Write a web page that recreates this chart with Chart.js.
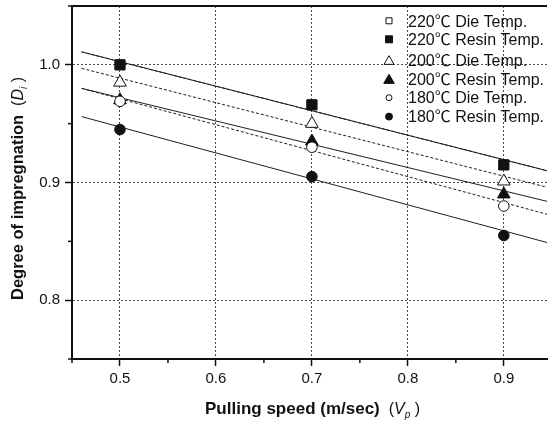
<!DOCTYPE html>
<html>
<head>
<meta charset="utf-8">
<script src="https://cdn.jsdelivr.net/npm/chart.js@4.4.1/dist/chart.umd.min.js"></script>
<style>
  html, body { margin: 0; padding: 0; background: #ffffff; overflow: hidden; }
  #wrap { width: 550px; height: 421px; }
</style>
</head>
<body>
<div id="wrap"><canvas id="c" width="550" height="421"></canvas></div>
<script>
// ---- data ----
const pullingSpeed = [0.5, 0.7, 0.9];
const die220   = [1.000, 0.966, 0.915];
const resin220 = [1.000, 0.966, 0.915];
const die200   = [0.985, 0.950, 0.901];
const resin200 = [0.970, 0.935, 0.890];
const die180   = [0.969, 0.930, 0.880];
const resin180 = [0.945, 0.905, 0.855];

// fitted lines (end points)
const fitX        = [0.46, 0.945];
const fitDie220   = [1.011, 0.910];
const fitResin220 = [1.011, 0.910];
const fitDie200   = [0.997, 0.896];
const fitResin200 = [0.980, 0.884];
const fitDie180   = [0.980, 0.873];
const fitResin180 = [0.956, 0.849];

const xTicks = [0.5, 0.6, 0.7, 0.8, 0.9];
const yTicks = [0.8, 0.9, 1.0];
const xMinorTicks = [0.45, 0.55, 0.65, 0.75, 0.85];
const yMinorTicks = [0.75, 0.85, 0.95, 1.05];

const seriesLabels = [
  '220\u2103 Die Temp.',
  '220\u2103 Resin Temp.',
  '200\u2103 Die Temp.',
  '200\u2103 Resin Temp.',
  '180\u2103 Die Temp.',
  '180\u2103 Resin Temp.'
];

const FONT = '"Liberation Sans", Arial, "Noto Sans CJK KR", sans-serif';
const INK = '#111111';

function pts(xs, ys) { return xs.map((x, i) => ({ x: x, y: ys[i] })); }

const markerDefs = [
  { data: die220,   style: 'rect',     fill: '#ffffff', r: 7 },
  { data: resin220, style: 'rect',     fill: INK,       r: 7 },
  { data: die200,   style: 'triangle', fill: '#ffffff', r: 7.3 },
  { data: resin200, style: 'triangle', fill: INK,       r: 7.3 },
  { data: die180,   style: 'circle',   fill: '#ffffff', r: 5.3 },
  { data: resin180, style: 'circle',   fill: INK,       r: 5.3 }
];
const fitDefs = [
  { data: fitDie220,   dash: [3, 2] },
  { data: fitResin220, dash: [] },
  { data: fitDie200,   dash: [3, 2] },
  { data: fitResin200, dash: [] },
  { data: fitDie180,   dash: [3, 2] },
  { data: fitResin180, dash: [] }
];

const datasets = [];
markerDefs.forEach((m, i) => {
  datasets.push({
    label: seriesLabels[i],
    data: pts(pullingSpeed, m.data),
    showLine: false,
    pointStyle: m.style,
    pointRadius: m.r,
    pointHoverRadius: m.r,
    pointBackgroundColor: m.fill,
    pointBorderColor: INK,
    pointBorderWidth: 1,
    order: 6 - i            // later series drawn on top
  });
});
fitDefs.forEach((f, i) => {
  datasets.push({
    label: 'fit ' + seriesLabels[i],
    data: pts(fitX, f.data),
    showLine: true,
    pointRadius: 0,
    borderColor: '#1e1e1e',
    borderWidth: 1,
    borderDash: f.dash,
    fill: false,
    tension: 0,
    order: 10
  });
});

function drawMarker(ctx, style, filled, x, y, size) {
  ctx.save();
  ctx.lineWidth = 1;
  ctx.strokeStyle = INK;
  ctx.fillStyle = filled ? INK : '#ffffff';
  ctx.beginPath();
  if (style === 'rect') {
    ctx.rect(x - size / 2, y - size / 2, size, size);
  } else if (style === 'triangle') {
    const w = size, h = size * 0.87;
    ctx.moveTo(x, y - h / 2);
    ctx.lineTo(x + w / 2, y + h / 2);
    ctx.lineTo(x - w / 2, y + h / 2);
    ctx.closePath();
  } else {
    ctx.arc(x, y, size / 2, 0, Math.PI * 2);
  }
  ctx.fill();
  ctx.stroke();
  ctx.restore();
}

function drawSegments(ctx, segs, x, y) {
  let cx = x;
  segs.forEach(s => {
    ctx.font = s.f;
    ctx.fillText(s.t, cx, y + (s.dy || 0));
    cx += ctx.measureText(s.t).width;
  });
  return cx - x;
}
function segWidth(ctx, segs) {
  let w = 0;
  segs.forEach(s => { ctx.font = s.f; w += ctx.measureText(s.t).width; });
  return w;
}

const decorPlugin = {
  id: 'decor',
  afterDraw(chart) {
    const ctx = chart.ctx;
    const ca = chart.chartArea;
    const xs = chart.scales.x, ys = chart.scales.y;
    ctx.save();
    // top frame line
    ctx.strokeStyle = INK;
    ctx.lineWidth = 2;
    ctx.beginPath();
    ctx.moveTo(ca.left - 1, ca.top);
    ctx.lineTo(ca.right, ca.top);
    ctx.stroke();
    // minor ticks
    ctx.lineWidth = 1.5;
    xMinorTicks.forEach(v => {
      const px = xs.getPixelForValue(v);
      ctx.beginPath(); ctx.moveTo(px, ca.bottom); ctx.lineTo(px, ca.bottom + 4); ctx.stroke();
    });
    yMinorTicks.forEach(v => {
      const py = ys.getPixelForValue(v);
      ctx.beginPath(); ctx.moveTo(ca.left, py); ctx.lineTo(ca.left - 4, py); ctx.stroke();
    });

    // axis titles
    ctx.fillStyle = INK;
    ctx.textBaseline = 'alphabetic';
    ctx.textAlign = 'left';
    const xSegs = [
      { t: 'Pulling speed (m/sec)', f: 'bold 17px ' + FONT },
      { t: '  (', f: '16px ' + FONT },
      { t: 'V', f: 'italic 16px ' + FONT },
      { t: 'p', f: 'italic 10px ' + FONT, dy: 4 },
      { t: ' )', f: '16px ' + FONT }
    ];
    const xw = segWidth(ctx, xSegs);
    drawSegments(ctx, xSegs, 312.5 - xw / 2, 413.5);

    const ySegs = [
      { t: 'Degree of impregnation', f: 'bold 16.5px ' + FONT },
      { t: '  (', f: '16px ' + FONT },
      { t: 'D', f: 'italic 16px ' + FONT },
      { t: 'i', f: 'italic 10px ' + FONT, dy: 4 },
      { t: ' )', f: '16px ' + FONT }
    ];
    ctx.save();
    ctx.translate(22.7, 300);
    ctx.rotate(-Math.PI / 2);
    drawSegments(ctx, ySegs, 0, 0);
    ctx.restore();

    // legend
    const rowsY = [20.8, 39.3, 60, 78.8, 97.7, 116.6];
    const mSizes = [6, 7, 10, 10.5, 6, 7];
    markerDefs.forEach((m, i) => {
      drawMarker(ctx, m.style, m.fill !== '#ffffff', 389, rowsY[i], mSizes[i]);
      ctx.font = '16px ' + FONT;
      ctx.fillStyle = INK;
      ctx.fillText(seriesLabels[i], 408, rowsY[i] + 5.7);
    });
    ctx.restore();
  }
};

new Chart(document.getElementById('c'), {
  type: 'scatter',
  data: { datasets: datasets },
  options: {
    responsive: false,
    animation: false,
    devicePixelRatio: 1,
    layout: { autoPadding: false, padding: { left: 0, right: 3, top: 6, bottom: 0 } },
    plugins: {
      legend: { display: false },
      tooltip: { enabled: false },
      title: { display: false }
    },
    scales: {
      x: {
        type: 'linear',
        min: 0.45,
        max: 0.945,
        afterBuildTicks: s => { s.ticks = xTicks.map(v => ({ value: v })); },
        afterFit: s => { s.height = 62; s.paddingLeft = 0; s.paddingRight = 0; },
        ticks: {
          color: INK,
          font: { family: FONT, size: 15 },
          padding: 4,
          maxRotation: 0,
          autoSkip: false,
          callback: v => Number(v).toFixed(1)
        },
        grid: {
          color: '#4a4a4a',
          lineWidth: 1,
          drawTicks: true,
          tickLength: 7,
          tickColor: INK,
          tickWidth: 1.5
        },
        border: { display: true, color: INK, width: 2, dash: [2, 2] }
      },
      y: {
        type: 'linear',
        min: 0.75,
        max: 1.05,
        afterBuildTicks: s => { s.ticks = yTicks.map(v => ({ value: v })); },
        afterFit: s => { s.width = 72; s.paddingTop = 0; s.paddingBottom = 0; },
        ticks: {
          color: INK,
          font: { family: FONT, size: 15 },
          padding: 5,
          autoSkip: false,
          callback: v => Number(v).toFixed(1)
        },
        grid: {
          color: '#4a4a4a',
          lineWidth: 1,
          drawTicks: true,
          tickLength: 7,
          tickColor: INK,
          tickWidth: 1.5
        },
        border: { display: true, color: INK, width: 2, dash: [2, 2] }
      }
    }
  },
  plugins: [decorPlugin]
});
</script>
</body>
</html>
